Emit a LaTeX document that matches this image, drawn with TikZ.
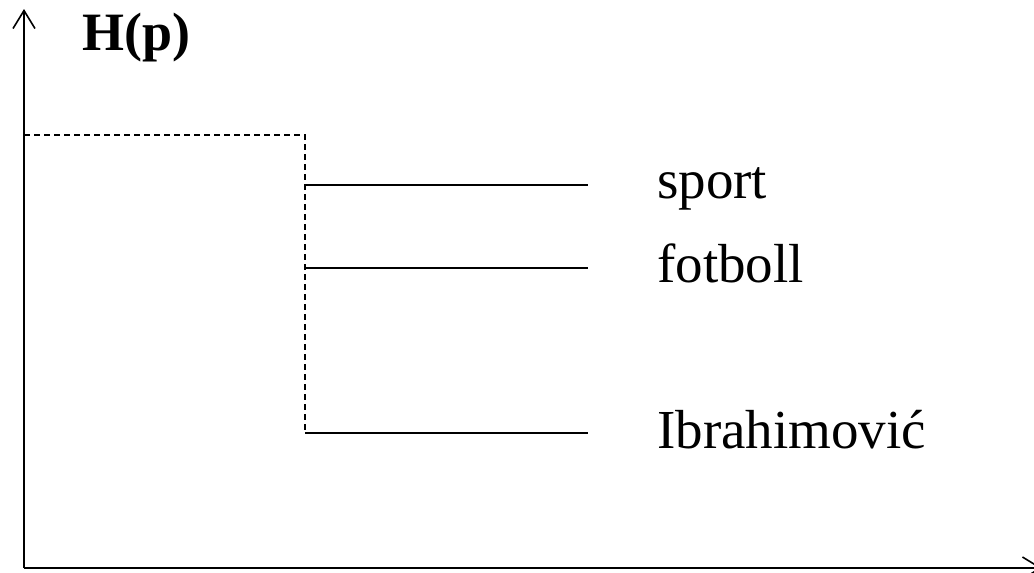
\documentclass[tikz,border=0pt]{standalone}
\usepackage{fontspec}
\setmainfont{Liberation Serif}
\usetikzlibrary{arrows.meta}
\tikzset{
  axis/.style={line width=1.6pt, -{Straight Barb[length=18pt,width=22pt,line width=1.6pt]}},
  dashline/.style={line width=1.6pt, dash pattern=on 6pt off 4pt},
  branch/.style={line width=1.6pt},
  term/.style={anchor=base west, inner sep=0pt, font=\fontsize{55}{60}\selectfont},
  title/.style={anchor=base west, inner sep=0pt, font=\fontsize{54}{60}\selectfont\bfseries}
}
\begin{document}
\begin{tikzpicture}[x=1pt,y=-1pt]
  \useasboundingbox (0,0) rectangle (1034,573);
  % axes
  \coordinate (o) at (24,568);
  \coordinate (ytop) at (24,9);
  \coordinate (xend) at (1042,568);
  \draw[axis] (o) -- (ytop);
  \draw[axis] (o) -- (xend);
  \node[title] (h) at (82,50) {H(p)};
  % dashed level line and joining vertical
  \coordinate (lvl) at (24,135);
  \coordinate (corner) at (305,135);
  \coordinate (j3) at (305,433);
  \draw[dashline] (lvl) -- (corner) -- (j3);
  % branches
  \coordinate (j1) at (305,185);
  \coordinate (j2) at (305,268);
  \coordinate (e1) at (588,185);
  \coordinate (e2) at (588,268);
  \coordinate (e3) at (588,433);
  \draw[branch] (j1) -- (e1);
  \draw[branch] (j2) -- (e2);
  \draw[branch] (j3) -- (e3);
  % labels
  \node[term] (t1) at (657,198) {sport};
  \node[term] (t2) at (657,282) {fotboll};
  \node[term] (t3) at (657,448) {Ibrahimović};
\end{tikzpicture}
\end{document}
